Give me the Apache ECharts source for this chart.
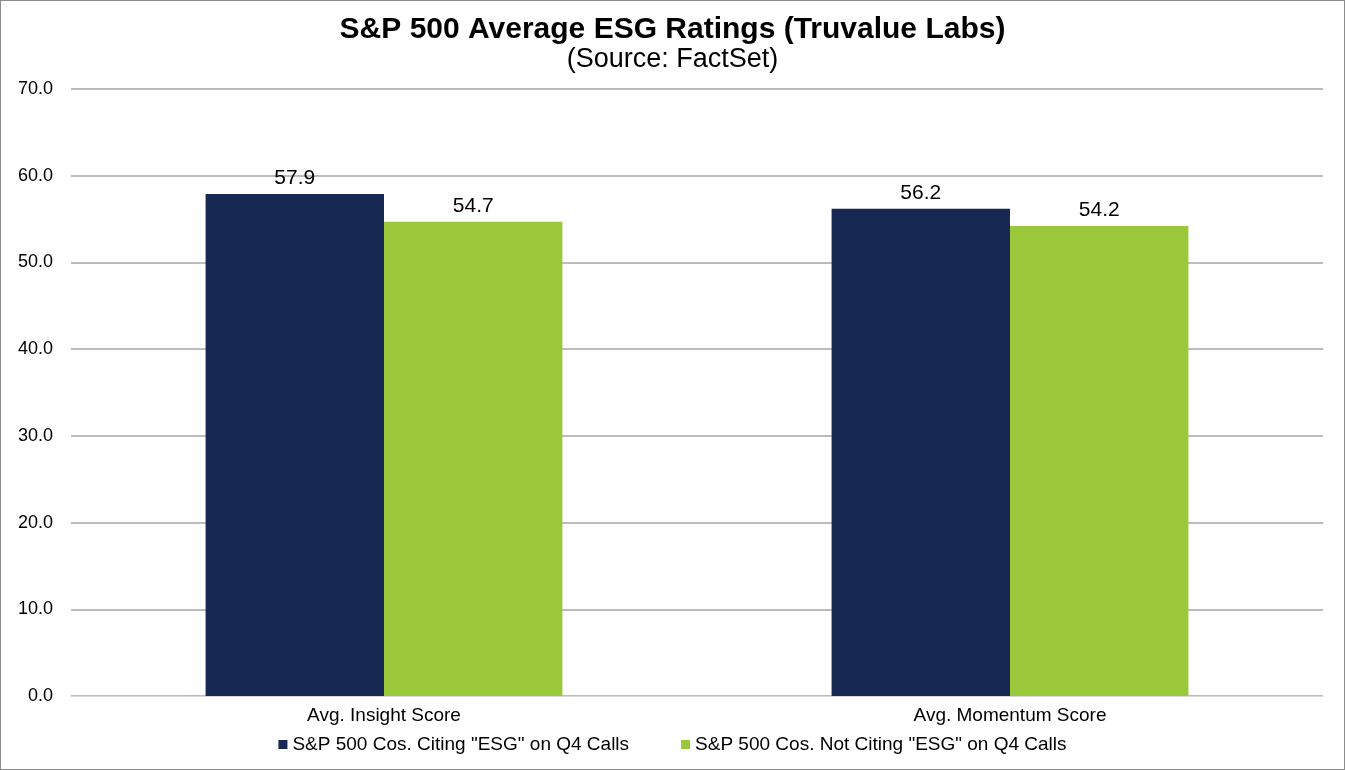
<!DOCTYPE html>
<html>
<head>
<meta charset="utf-8">
<script src="https://cdn.jsdelivr.net/npm/echarts@6/dist/echarts.min.js"></script>
<style>
    html, body { margin: 0; padding: 0; background: #fff; }
    #chart { width: 1343px; height: 768px; border: 1px solid #8c8c8c; }
</style>
</head>
<body>
<div id="chart"></div>
<script>
// 数据
var categories = ['Avg. Insight Score', 'Avg. Momentum Score'];
var citingESG = [57.9, 56.2];
var notCitingESG = [54.7, 54.2];
var seriesNames = ['S&P 500 Cos. Citing "ESG" on Q4 Calls', 'S&P 500 Cos. Not Citing "ESG" on Q4 Calls'];

var font = 'Arial, "Liberation Sans", sans-serif';

var myChart = echarts.init(document.getElementById('chart'));

//柱子上的数值标签
function barLabel() {
    return {
        show: true, position: 'top', distance: 5,
        fontFamily: font, fontSize: 21, color: '#000',
        formatter: function (p) { return p.value.toFixed(1); }
    };
}

var option = {
    animation: false,
    title: {
        text: 'S&P 500 Average ESG Ratings (Truvalue Labs)',
        subtext: '(Source: FactSet)',
        left: 'center',
        top: 9,
        itemGap: 1,
        textStyle: { fontFamily: font, fontSize: 30, fontWeight: 'bold', color: '#000' },
        subtextStyle: { fontFamily: font, fontSize: 27, color: '#000' }
    },
    legend: {
        bottom: 10,
        left: 'center',
        itemWidth: 9,
        itemHeight: 9,
        itemGap: 52,
        icon: 'rect',
        textStyle: { fontFamily: font, fontSize: 19, color: '#000' },
        data: seriesNames
    },
    grid: {
        left: 70,
        right: 21,
        top: 88,
        bottom: 73
    },
    xAxis: {
        type: 'category',
        data: categories,
        axisTick: { show: false },
        axisLine: { lineStyle: { color: '#d9d9d9' } },
        axisLabel: { fontFamily: font, fontSize: 19, color: '#000', margin: 10 }
    },
    yAxis: {
        type: 'value',
        min: 0,
        max: 70,
        interval: 10,
        axisLabel: {
            fontFamily: font, fontSize: 18, color: '#000', margin: 18,
            formatter: function (v) { return v.toFixed(1); }
        },
        splitLine: { lineStyle: { color: '#a6a6a6', width: 1.5 } },
        axisLine: { show: false },
        axisTick: { show: false }
    },
    series: [
        {
            name: seriesNames[0],
            type: 'bar',
            data: citingESG,
            barGap: '0%',
            barCategoryGap: '43%',
            itemStyle: { color: '#172952' },
            label: barLabel()
        },
        {
            name: seriesNames[1],
            type: 'bar',
            data: notCitingESG,
            barGap: '0%',
            barCategoryGap: '43%',
            itemStyle: { color: '#9ac83a' },
            label: barLabel()
        }
    ]
};

myChart.setOption(option);
</script>
</body>
</html>
